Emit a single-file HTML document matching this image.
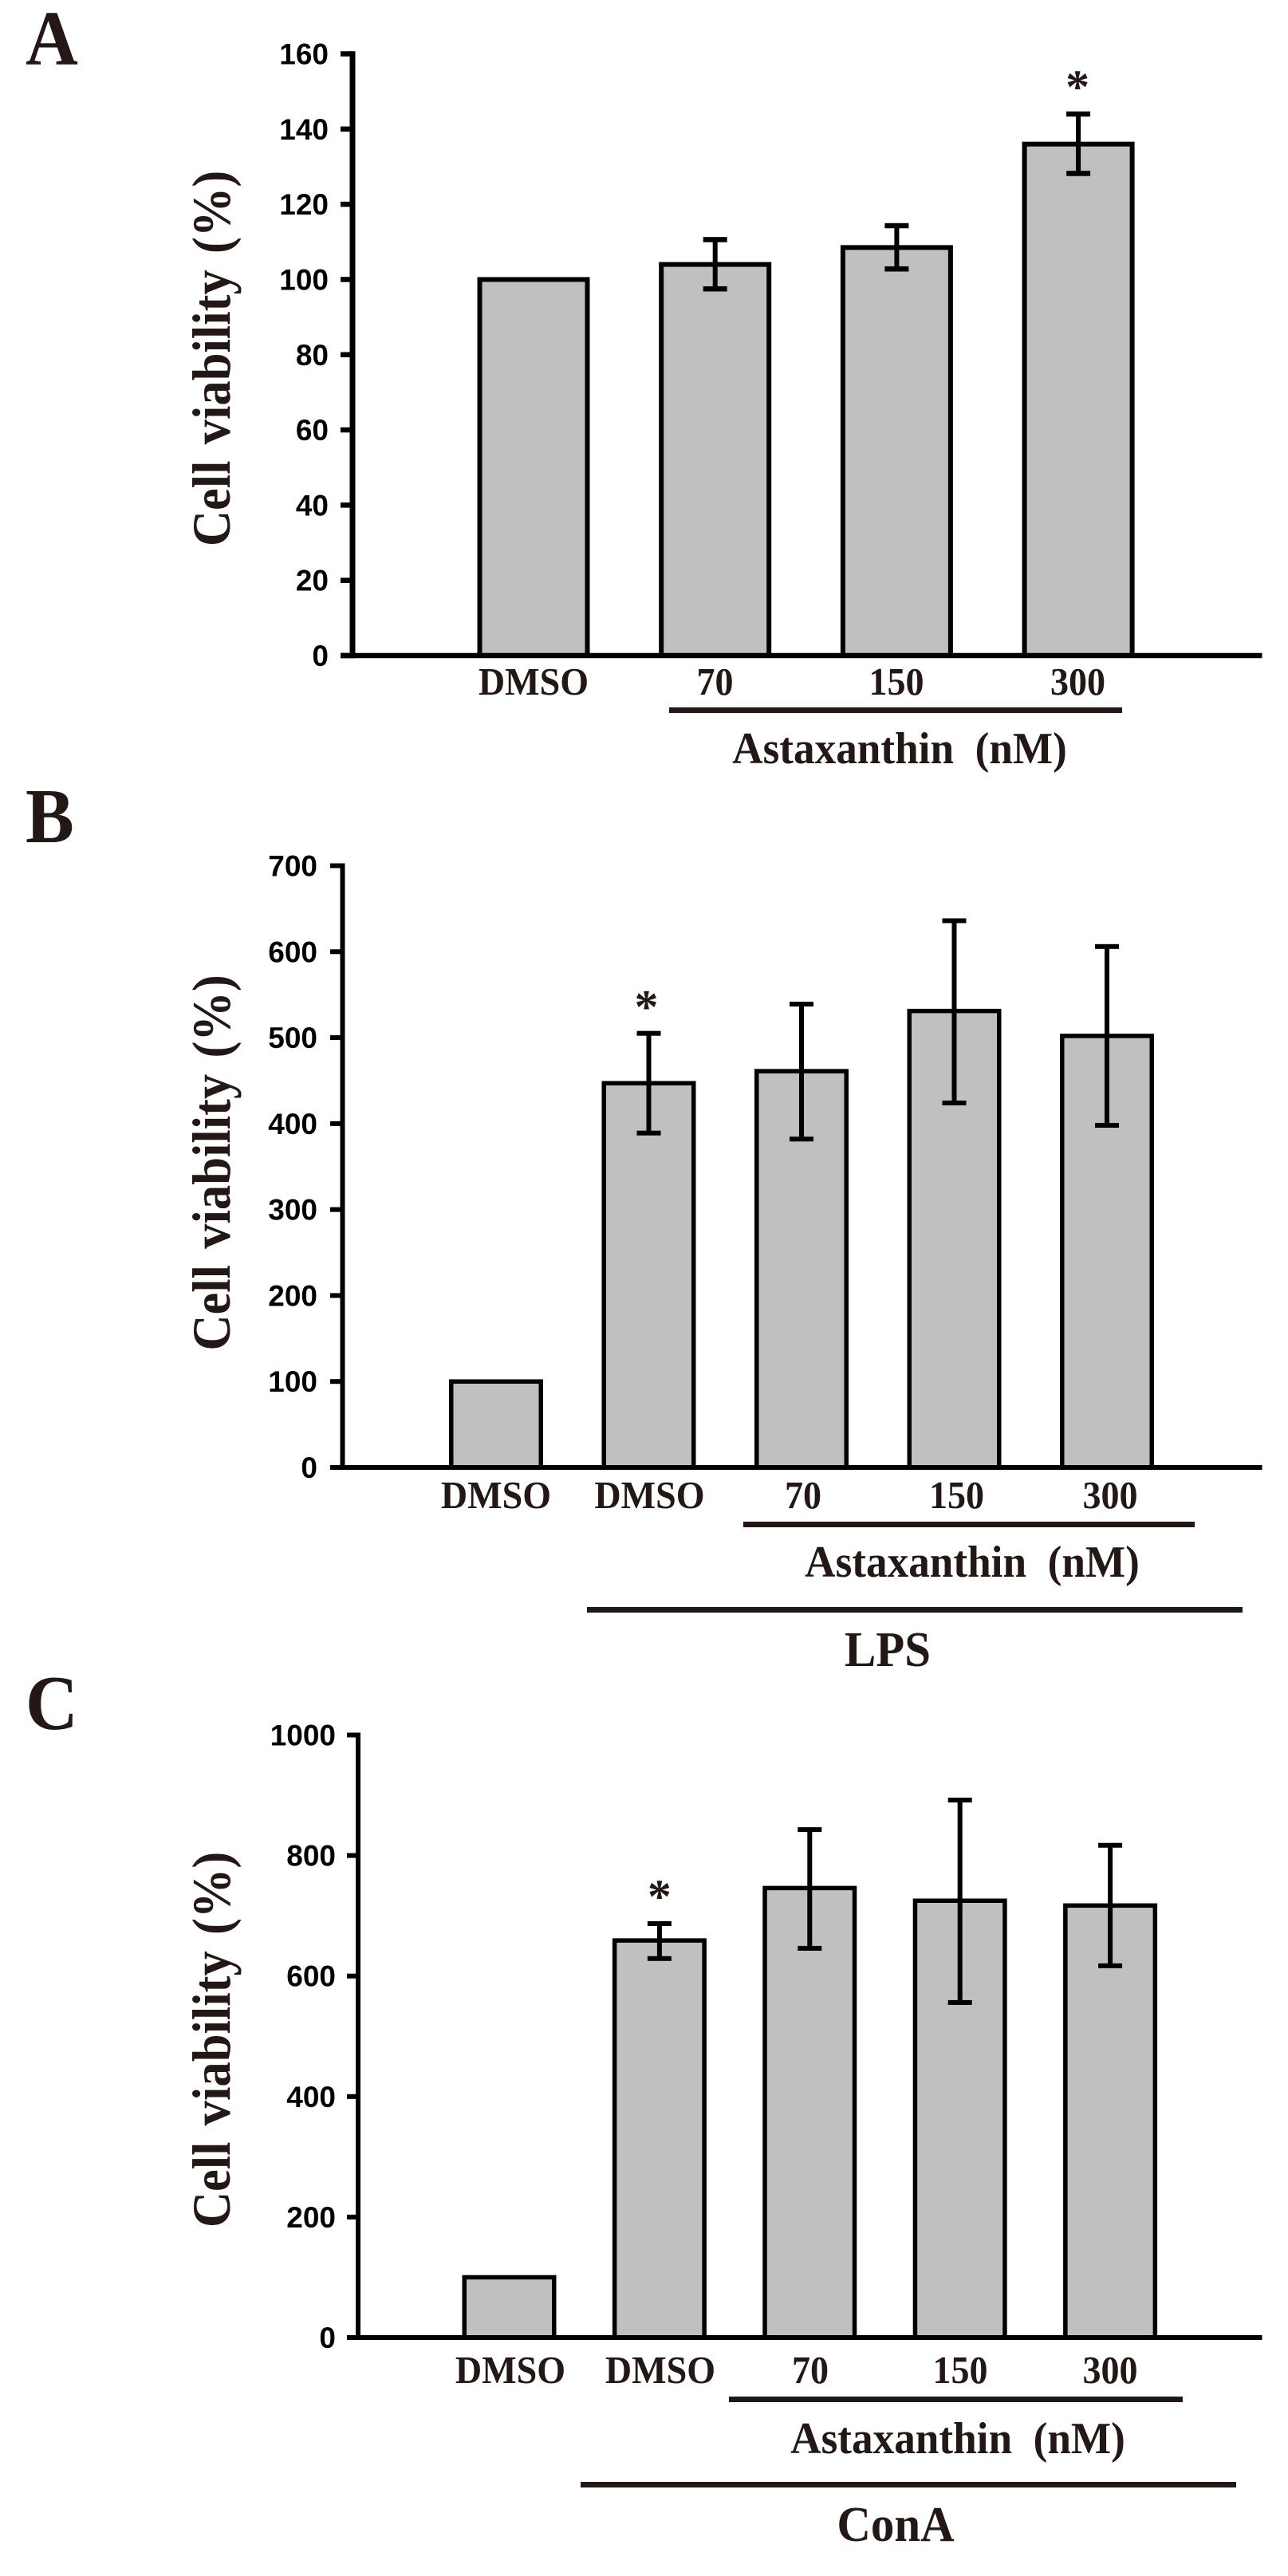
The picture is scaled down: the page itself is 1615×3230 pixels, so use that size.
<!DOCTYPE html>
<html lang="en">
<head>
<meta charset="utf-8">
<title>Cell viability with Astaxanthin</title>
<style>
html,body{margin:0;padding:0;background:#fff;}
svg{display:block;}
.serif{font-family:"Liberation Serif",serif;font-weight:bold;fill:#231815;}
.num{font-family:"Liberation Sans",sans-serif;font-weight:bold;fill:#000;font-size:37px;}
.letter{font-size:98px;}
.ytitle{font-size:68px;word-spacing:5px;text-anchor:middle;}
.xlab{font-size:49px;text-anchor:middle;}
.group{font-size:56px;word-spacing:14px;text-anchor:middle;}
.big{font-size:62px;text-anchor:middle;}
.star{font-size:60px;text-anchor:middle;}
</style>
</head>
<body>
<svg id="figure" xmlns="http://www.w3.org/2000/svg" width="1615" height="3230" viewBox="0 0 1615 3230">
<rect x="0" y="0" width="1615" height="3230" fill="#fff"/>

<text class="serif letter" transform="translate(32,81) scale(0.93,1)">A</text>
<text class="serif ytitle" transform="translate(288,449.5) rotate(-90) scale(0.92,1)">Cell viability (%)</text>
<g id="panelA"></g>
<rect x="839" y="887" width="568" height="7" fill="#231815"/>
<text class="serif group" transform="translate(1128,957) scale(0.95,1)">Astaxanthin (nM)</text>

<text class="serif letter" transform="translate(32,1056) scale(0.93,1)">B</text>
<text class="serif ytitle" transform="translate(288,1458) rotate(-90) scale(0.92,1)">Cell viability (%)</text>
<g id="panelB"></g>
<rect x="932" y="1908" width="566" height="7" fill="#231815"/>
<text class="serif group" transform="translate(1219,1977) scale(0.95,1)">Astaxanthin (nM)</text>
<rect x="736" y="2015" width="822" height="7" fill="#231815"/>
<text class="serif big" transform="translate(1113,2089) scale(0.95,1)">LPS</text>

<text class="serif letter" transform="translate(32,2168) scale(0.93,1)">C</text>
<text class="serif ytitle" transform="translate(288,2557.5) rotate(-90) scale(0.92,1)">Cell viability (%)</text>
<g id="panelC"></g>
<rect x="914" y="3005" width="569" height="7" fill="#231815"/>
<text class="serif group" transform="translate(1201,3076) scale(0.95,1)">Astaxanthin (nM)</text>
<rect x="728" y="3112" width="822" height="7" fill="#231815"/>
<text class="serif big" transform="translate(1123,3186) scale(0.95,1)">ConA</text>
</svg>

<script>
var categoriesA = ["DMSO", "70", "150", "300"];
var valuesA = [100, 104, 108.5, 136];
var errHighA = [null, 110.6, 114.3, 144];
var errLowA = [null, 97.5, 102.8, 128.2];
var ticksA = [0, 20, 40, 60, 80, 100, 120, 140, 160];
var starA = 3;

var categoriesB = ["DMSO", "DMSO", "70", "150", "300"];
var valuesB = [100, 447, 461, 531, 502];
var errHighB = [null, 505, 539, 636, 606];
var errLowB = [null, 389, 382, 424, 398];
var ticksB = [0, 100, 200, 300, 400, 500, 600, 700];
var starB = 1;

var categoriesC = ["DMSO", "DMSO", "70", "150", "300"];
var valuesC = [100, 659, 746, 725, 717];
var errHighC = [null, 687, 843, 892, 817];
var errLowC = [null, 629, 646, 556, 617];
var ticksC = [0, 200, 400, 600, 800, 1000];
var starC = 1;

var SVGNS = "http://www.w3.org/2000/svg";

function drawRect(parent, name, x, y, w, h, fill, stroke, sw) {
  var el = document.createElementNS(SVGNS, "rect");
  
  
  el.setAttribute("x", x);
  el.setAttribute("y", y);
  el.setAttribute("width", w);
  el.setAttribute("height", h);
  el.setAttribute("fill", fill);
  if (stroke) {
    el.setAttribute("stroke", stroke);
    el.setAttribute("stroke-width", sw);
  }
  parent.appendChild(el);
  return el;
}

function drawText(parent, name, cls, x, y, anchor, sx, str) {
  var el = document.createElementNS(SVGNS, "text");
  
  
  el.setAttribute("class", cls);
  el.setAttribute("transform", "translate(" + x + "," + y + ") scale(" + sx + ",1)");
  el.setAttribute("text-anchor", anchor);
  el.textContent = str;
  parent.appendChild(el);
  return el;
}

function drawPanel(id, prefix, cats, vals, hi, lo, ticks, starIdx, o) {
  var g = document.getElementById(id);
  var yMax = ticks[ticks.length - 1];
  function yScale(v) { return o.y0 + (o.yTop - o.y0) * v / yMax; }
  function xScale(i) { return o.firstCenter + o.step * i; }
  function labelX(i) { return o.labelFirst + o.labelStep * i; }

  vals.forEach(function (v, i) {
    var cx = xScale(i);
    var top = yScale(v);
    drawRect(g, prefix + "-bar-" + i, cx - o.barW / 2, top, o.barW, o.y0 - top, "#c0c0c0", "#000", o.barStroke);
  });

  drawRect(g, prefix + "-y-axis-line", o.axisX - o.axisW / 2, o.yTop - o.lineW / 2, o.axisW, o.y0 - o.yTop + o.lineW, "#000");
  drawRect(g, prefix + "-x-axis-line", o.tickLeft, o.y0 - o.lineW / 2, 1582.5 - o.tickLeft, o.lineW, "#000");

  ticks.forEach(function (t) {
    var y = yScale(t);
    drawRect(g, prefix + "-y-tick-" + t, o.tickLeft, y - o.lineW / 2, o.axisX - o.tickLeft, o.lineW, "#000");
    drawText(g, prefix + "-y-tick-label-" + t, "num", o.labelRight, y + 13, "end", 1, String(t));
  });

  vals.forEach(function (v, i) {
    if (hi[i] === null) { return; }
    var cx = xScale(i);
    var yh = yScale(hi[i]);
    var yl = yScale(lo[i]);
    drawRect(g, prefix + "-error-stem-" + i, cx - 3, yh, 6, yl - yh, "#000");
    drawRect(g, prefix + "-error-cap-high-" + i, cx - 15, yh - o.lineW / 2, 30, o.lineW, "#000");
    drawRect(g, prefix + "-error-cap-low-" + i, cx - 15, yl - o.lineW / 2, 30, o.lineW, "#000");
  });

  cats.forEach(function (c, i) {
    drawText(g, prefix + "-x-label-" + i, "serif xlab", labelX(i), o.labelBase, "middle", 0.94, c);
  });

  drawText(g, prefix + "-significance-star", "serif star", xScale(starIdx) + o.starDx, yScale(hi[starIdx]) - o.starGap, "middle", 1, "*");
}

drawPanel("panelA", "panel-a", categoriesA, valuesA, errHighA, errLowA, ticksA, starA, {
  axisX: 442, axisW: 7, lineW: 6.5, tickLeft: 427, labelRight: 412,
  y0: 822, yTop: 67.5, firstCenter: 669, step: 227.7, barW: 135, barStroke: 6,
  labelFirst: 669, labelStep: 227.5, labelBase: 871, starDx: -1, starGap: 14
});
drawPanel("panelB", "panel-b", categoriesB, valuesB, errHighB, errLowB, ticksB, starB, {
  axisX: 429.5, axisW: 6, lineW: 6, tickLeft: 414, labelRight: 398,
  y0: 1840, yTop: 1085.5, firstCenter: 622, step: 191.5, barW: 112.5, barStroke: 5.5,
  labelFirst: 622, labelStep: 192.5, labelBase: 1891, starDx: -3, starGap: 13
});
drawPanel("panelC", "panel-c", categoriesC, valuesC, errHighC, errLowC, ticksC, starC, {
  axisX: 449, axisW: 6, lineW: 6, tickLeft: 435, labelRight: 421,
  y0: 2931, yTop: 2175.5, firstCenter: 638.5, step: 188.4, barW: 112.5, barStroke: 5.5,
  labelFirst: 640, labelStep: 188, labelBase: 2988, starDx: 0, starGap: 14
});
</script>
</body>
</html>
